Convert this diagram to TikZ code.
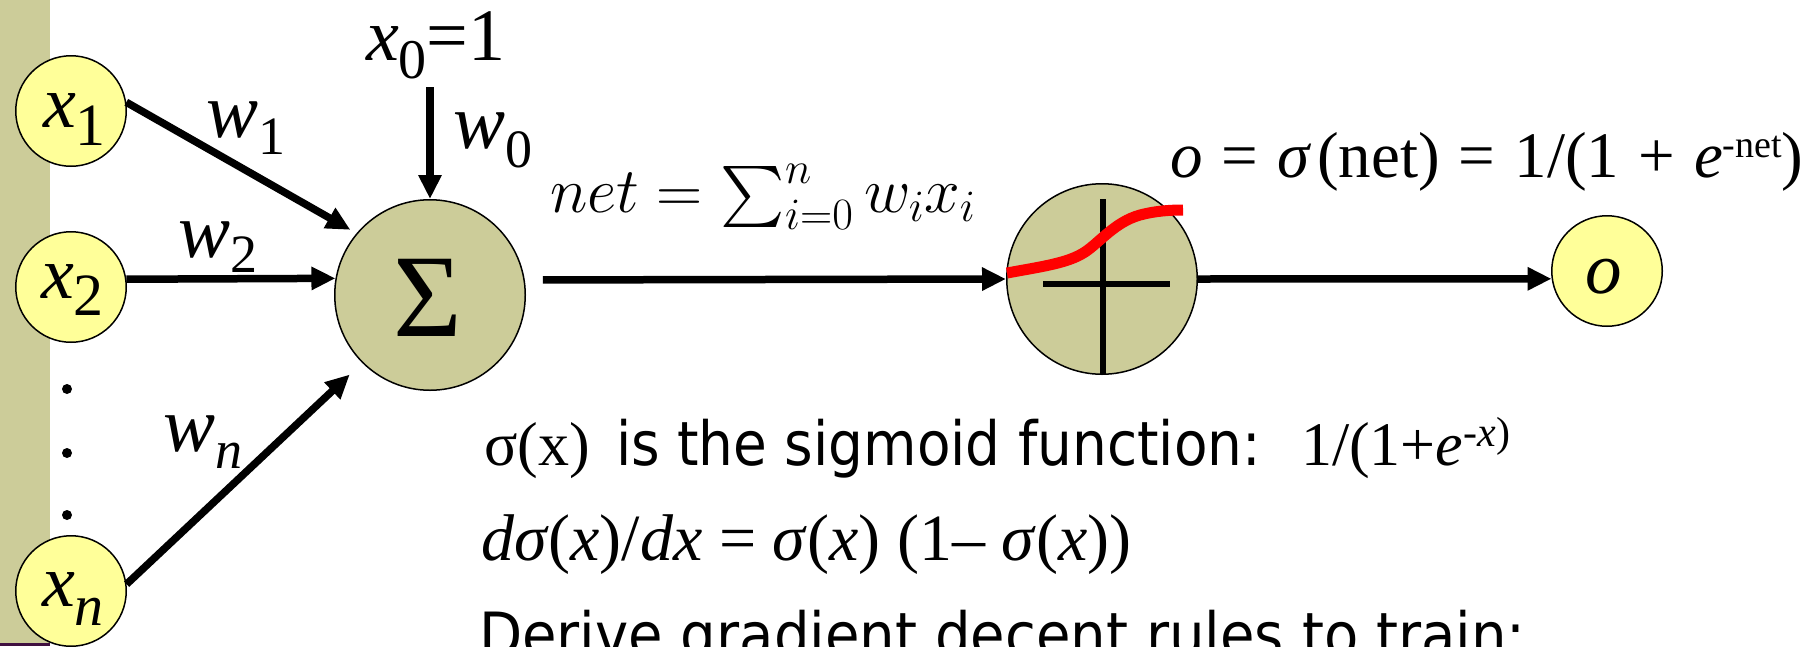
\RequirePackage{fix-cm}
\documentclass[tikz,border=0pt]{standalone}
\usepackage{graphicx}
\usepackage{fontspec}
\usetikzlibrary{arrows.meta}
\newfontfamily\tms{Liberation Serif}
\newfontfamily\tah[FakeStretch=0.9]{DejaVu Sans}
\newfontfamily\tahw[FakeStretch=0.92]{DejaVu Sans}
\newcommand\fsz[1]{\fontsize{#1}{#1}\selectfont}
\newcommand\lowsub[3]{\raisebox{-#1pt}{\fsz{#2}#3}}
\newcommand\upsup[3]{\raisebox{#1pt}{\fsz{#2}#3}}
\newcommand\hsp{\hspace{19pt}}
\definecolor{olv}{RGB}{204,204,153}
\definecolor{pyel}{RGB}{255,255,153}
\definecolor{dpur}{RGB}{64,16,64}
\tikzset{
  inp/.style={circle, draw=black, line width=1.5pt, fill=pyel, minimum size=110.5pt, inner sep=0pt},
  unit/.style={circle, draw=black, line width=1.5pt, fill=olv, minimum size=190.5pt, inner sep=0pt},
  txt/.style={inner sep=0pt, outer sep=0pt, anchor=base west},
  arr/.style={line width=7.5pt, -{Triangle[length=24pt,width=22pt]}},
  dotn/.style={circle, fill=black, inner sep=0pt, minimum size=10pt},
  axis/.style={line width=6pt, black},
  sigcurve/.style={line width=11pt, red}
}
\begin{document}
\begin{tikzpicture}[x=1pt,y=-1pt]
\useasboundingbox (0,0) rectangle (1819,646);
\fill[white] (0,0) rectangle (1819,646);
% left bar
\fill[olv] (0,0) rectangle (50,646);
\fill[dpur] (0,643) rectangle (50,646);

% input nodes
\node[inp] (x1) at (71,111) {};
\node[inp] (x2) at (71,287) {};
\node[inp] (xn) at (71,591) {};
\node[dotn] (d1) at (67,389) {};
\node[dotn] (d2) at (67,453) {};
\node[dotn] (d3) at (67,515) {};

% summation and sigmoid units
\node[unit] (sig) at (430,295) {};
\node[unit] (sgm) at (1102,279) {};
\node[inp] (out) at (1607,271) {};

% texts in nodes
\node[txt] (x1t) at (43,127) {\tms\fsz{74}\textit{x}\lowsub{18}{60}{1}};
\node[txt] (x2t) at (41,298) {\tms\fsz{74}\textit{x}\lowsub{17}{60}{2}};
\node[txt] (xnt) at (42,606) {\tms\fsz{74}\textit{x}\lowsub{19}{58}{\textit{n}}};
\node[txt] (sigt) at (393,336) {\tms\fsz{118}Σ};
\node[txt] (outt) at (1585,293) {\tms\fsz{73}\textit{o}};

% labels
\node[txt] (x0t) at (366,60) {\tms\fsz{74}\textit{x}\lowsub{18}{56}{0}=1};
\node[txt] (w0t) at (453,148) {\tms\fsz{78}\textit{w}\lowsub{19}{54}{0}};
\node[txt] (w1t) at (206,137) {\tms\fsz{78}\textit{w}\lowsub{17}{54}{1}};
\node[txt] (w2t) at (178,257) {\tms\fsz{78}\textit{w}\lowsub{15}{54}{2}};
\node[txt] (wnt) at (163,451) {\tms\fsz{78}\textit{w}\lowsub{17}{54}{\textit{n}}};

% connectors
\coordinate (x0s) at (430,87);
\draw[arr, shorten >=7pt] (x1.9) -- (sig.140.5);
\draw[arr] (x2.8) -- (sig.170.5);
\draw[arr, shorten >=17pt] (xn.7) -- (sig.225);
\draw[arr] (x0s) -- (sig.north);
\draw[arr, shorten <=18pt] (sig.9.5) -- (sgm.west);
\draw[arr] (sgm.east) -- (out.188);

% plus axes and sigmoid curve
\draw[axis] (1103,199) -- (1103,375);
\draw[axis] (1043,284) -- (1170,284);
\draw[sigcurve] (1007,273) .. controls (1045,266) and (1068,263) .. (1085,252)
  .. controls (1100,242) and (1115,222) .. (1140,215)
  .. controls (1155,211) and (1170,210) .. (1183,210);

% formulas
\node[txt] (netf) at (550,212) {\fsz{64}$net = \mathop{\scalebox{6.1}{\fsz{10}$\textstyle\sum$}}\nolimits_{i=0}^{n} w_i x_i$};
\node[txt] (outf) at (1170,177) {\tms\fsz{65}\textit{o}\hsp=\hsp\textit{σ}\hspace{6pt}(net)\hsp=\hsp1/(1\hsp+\hsp\textit{e}\upsup{20}{38}{-net})};

% bottom text
\node[txt] (l1a) at (484,465) {\tms\fsz{62}σ(x)};
\node[txt] (l1b) at (616,465) {\tah\fsz{61}is the sigmoid function:};
\node[txt] (l1c) at (1301,465) {\tms\fsz{62}1/(1+\textit{e}\upsup{19}{42}{-\textit{x})}};
\node[txt] (l2) at (481,560) {\tms\fsz{66}\textit{dσ}(\textit{x})/\textit{dx} = \textit{σ}(\textit{x}) (1– \textit{σ}(\textit{x}))};
\node[txt] (l3) at (479,656.5) {\tahw\fsz{61}Derive gradient decent rules to train:};
\end{tikzpicture}
\end{document}
